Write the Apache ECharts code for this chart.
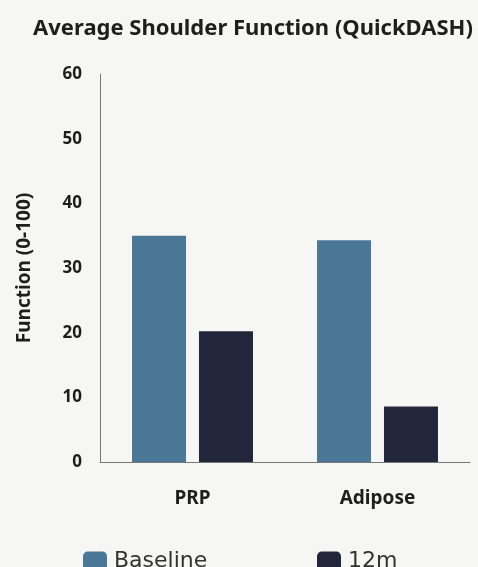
<!DOCTYPE html>
<html>
<head>
<meta charset="utf-8">
<script src="https://cdn.jsdelivr.net/npm/echarts@6/dist/echarts.min.js"></script>
<style>
  html, body { margin: 0; padding: 0; background: #f6f6f4; }
  #chart { width: 478px; height: 567px; }
</style>
</head>
<body>
<div id="chart"></div>
<script>
// Average QuickDASH shoulder function by treatment group
const categories = ['PRP', 'Adipose'];
const baselineValues = [35.0, 34.3];
const month12Values = [20.2, 8.6];
const seriesNames = ['Baseline', '12m'];
const yTicks = [0, 10, 20, 30, 40, 50, 60];

const chart = echarts.init(document.getElementById('chart'), null, { renderer: 'canvas' });

const boldFont = '"Noto Sans", "DejaVu Sans", sans-serif';
const legendFont = '"DejaVu Sans", "Noto Sans", sans-serif';

const legendBase = {
  top: 545,
  itemWidth: 24, itemHeight: 19, itemGap: 8,
  icon: 'roundRect',
  textStyle: { fontFamily: legendFont, fontSize: 22, color: '#333333', padding: [0, 0, 0, 2] }
};

chart.setOption({
  backgroundColor: '#f6f6f4',
  animation: false,
  title: {
    text: 'Average Shoulder Function (QuickDASH)',
    left: 248,
    top: 13,
    textAlign: 'center',
    textStyle: { fontFamily: boldFont, fontWeight: 'bold', fontSize: 22, color: '#1e1e1e' }
  },
  legend: [
    Object.assign({ data: [seriesNames[0]], left: 78 }, legendBase),
    Object.assign({ data: [seriesNames[1]], left: 312 }, legendBase)
  ],
  grid: { left: 100, right: 8, top: 74, bottom: 105, containLabel: false },
  xAxis: {
    type: 'category',
    data: categories,
    axisLine: { show: true, lineStyle: { color: '#777777', width: 1 } },
    axisTick: { show: false },
    axisLabel: { margin: 27, fontFamily: boldFont, fontWeight: 'bold', fontSize: 19, color: '#1e1e1e' }
  },
  yAxis: {
    type: 'value',
    min: yTicks[0],
    max: yTicks[yTicks.length - 1],
    interval: 10,
    name: 'Function (0-100)',
    nameLocation: 'middle',
    nameGap: 66,
    nameTextStyle: { fontFamily: boldFont, fontWeight: 'bold', fontSize: 19, color: '#1e1e1e' },
    axisLine: { show: true, lineStyle: { color: '#777777', width: 1 } },
    axisTick: { show: false },
    splitLine: { show: false },
    axisLabel: { margin: 18, fontFamily: boldFont, fontWeight: 'bold', fontSize: 17, color: '#1e1e1e' }
  },
  series: [
    {
      name: seriesNames[0],
      type: 'bar',
      data: baselineValues,
      barWidth: 54,
      barGap: '24%',
      itemStyle: { color: '#4b7796' }
    },
    {
      name: seriesNames[1],
      type: 'bar',
      data: month12Values,
      barWidth: 54,
      barGap: '24%',
      itemStyle: { color: '#22263a' }
    }
  ]
});
</script>
</body>
</html>
